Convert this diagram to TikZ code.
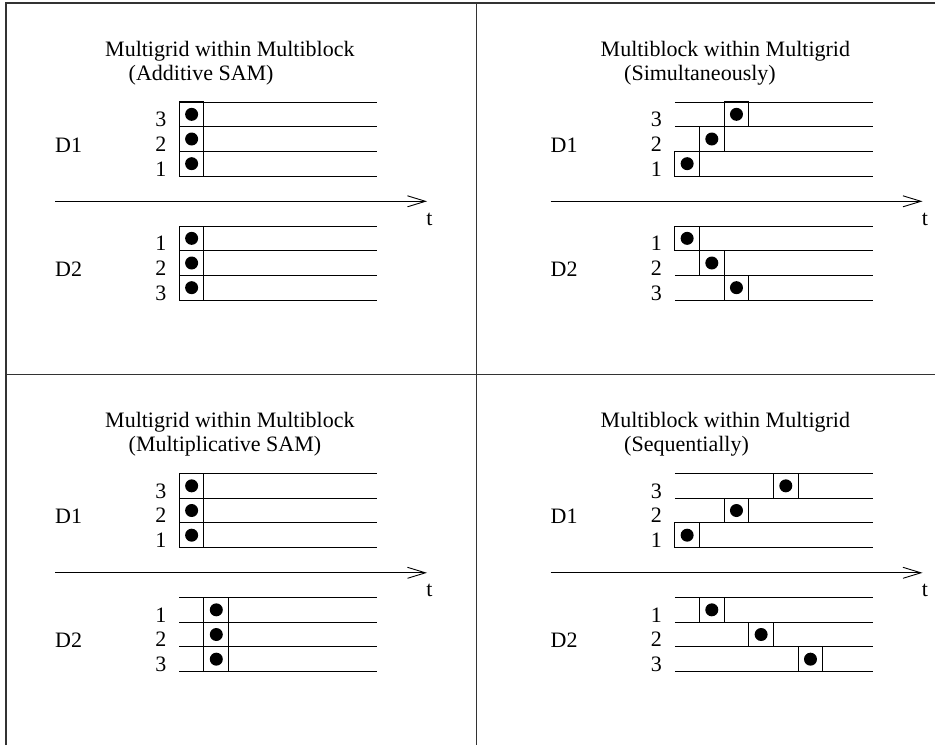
\documentclass[tikz,border=0pt]{standalone}
\usepackage{fontspec}
\setmainfont{Liberation Serif}
\usetikzlibrary{arrows.meta}
\tikzset{
  frame/.style={line width=1.4pt, draw=black!80},
  gridline/.style={line width=0.9pt},
  cell/.style={draw, line width=1pt, rectangle, minimum size=24.67pt, inner sep=0pt,
    path picture={\fill[black] (path picture bounding box.center) circle (6.5pt);}},
  lbl/.style={font=\fontsize{22}{26}\selectfont, inner sep=0pt},
  taxis/.style={line width=0.9pt, -{Straight Barb[length=18pt,width=11pt]}}
}
% #1 prefix, #2 dx, #3 dy, #4 title 1, #5 title 2, #6 D1 cells (row/col), #7 D2 cells (row/col)
\newcommand\mypanel[7]{%
  \begin{scope}[shift={(#2,#3)}]
    \node[lbl, anchor=base west] (#1-ti) at (105,56) {#4};
    \node[lbl, anchor=base west] (#1-tii) at (128.5,80) {#5};
    \node[lbl, anchor=base west] (#1-D1) at (55,152) {D1};
    \node[lbl, anchor=base west] (#1-D2) at (55,276) {D2};
    \foreach \y in {102,126.67,151.33,176,226,250.67,275.33,300}
      \draw[gridline] (179.3,\y) -- (377.3,\y);
    \node[lbl, anchor=base east] (#1-u3) at (166.5,126.67) {3};
    \node[lbl, anchor=base east] (#1-u2) at (166.5,151.33) {2};
    \node[lbl, anchor=base east] (#1-u1) at (166.5,176) {1};
    \node[lbl, anchor=base east] (#1-l1) at (166.5,250.67) {1};
    \node[lbl, anchor=base east] (#1-l2) at (166.5,275.33) {2};
    \node[lbl, anchor=base east] (#1-l3) at (166.5,300) {3};
    \coordinate (#1-ta) at (55,201.3);
    \coordinate (#1-tb) at (427,201.3);
    \draw[taxis] (#1-ta) -- (#1-tb);
    \node[lbl, anchor=base] (#1-t) at (429.5,225) {t};
    \foreach \r/\c in {#6}
      \node[cell] (#1-a\r) at ({191.63+24.67*\c},{114.33+24.67*\r}) {};
    \foreach \r/\c in {#7}
      \node[cell] (#1-b\r) at ({191.63+24.67*\c},{238.33+24.67*\r}) {};
  \end{scope}%
}
\begin{document}
\begin{tikzpicture}[x=1pt,y=-1pt]
  \useasboundingbox (0,0) rectangle (935,745);
  \draw[frame] (6,745) -- (6,3) -- (935,3);
  \draw[frame] (476.3,3) -- (476.3,745);
  \draw[frame] (6,374.5) -- (935,374.5);
  \mypanel{A}{0}{0}{Multigrid within Multiblock}{(Additive SAM)}{0/0,1/0,2/0}{0/0,1/0,2/0}
  \mypanel{B}{495.5}{0}{Multiblock within Multigrid}{(Simultaneously)}{2/0,1/1,0/2}{0/0,1/1,2/2}
  \mypanel{C}{0}{371.5}{Multigrid within Multiblock}{(Multiplicative SAM)}{0/0,1/0,2/0}{0/1,1/1,2/1}
  \mypanel{D}{495.5}{371.5}{Multiblock within Multigrid}{(Sequentially)}{2/0,1/2,0/4}{0/1,1/3,2/5}
\end{tikzpicture}
\end{document}
